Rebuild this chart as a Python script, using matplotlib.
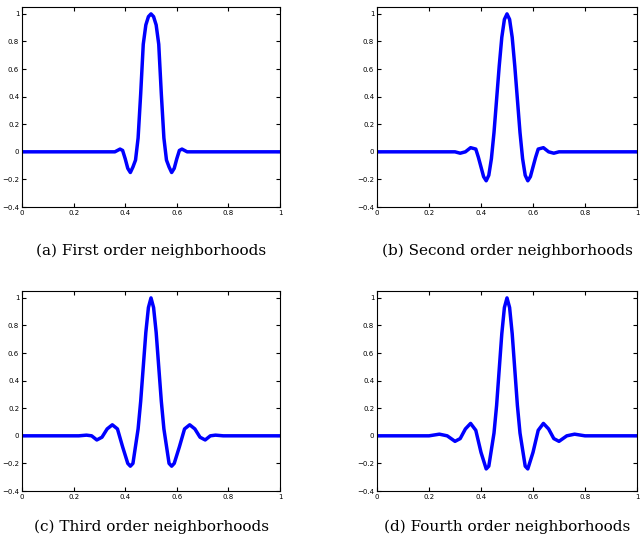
import matplotlib
matplotlib.use("Agg")
import matplotlib.pyplot as plt

# half-curves (x <= 0.5), mirrored about x = 0.5
xa = [0, 0.36, 0.37, 0.38, 0.39, 0.40, 0.41, 0.42, 0.43, 0.44, 0.45, 0.46, 0.47, 0.48, 0.49, 0.50]
ya = [0, 0, 0.01, 0.02, 0.01, -0.05, -0.12, -0.15, -0.11, -0.06, 0.1, 0.42, 0.78, 0.92, 0.98, 1.0]
xb = [0, 0.30, 0.32, 0.34, 0.36, 0.38, 0.39, 0.40, 0.41, 0.42, 0.43, 0.44, 0.45, 0.46, 0.47, 0.48, 0.49, 0.50]
yb = [0, 0, -0.01, 0.0, 0.03, 0.02, -0.04, -0.11, -0.18, -0.21, -0.17, -0.05, 0.14, 0.38, 0.62, 0.83, 0.96, 1.0]
xc = [0, 0.22, 0.25, 0.27, 0.29, 0.31, 0.33, 0.35, 0.37, 0.39, 0.41, 0.42, 0.43, 0.45, 0.46, 0.47, 0.48, 0.49, 0.50]
yc = [0, 0, 0.005, 0.0, -0.03, -0.01, 0.05, 0.08, 0.05, -0.08, -0.2, -0.22, -0.2, 0.05, 0.25, 0.5, 0.75, 0.93, 1.0]
xd = [0, 0.20, 0.24, 0.27, 0.30, 0.32, 0.34, 0.36, 0.38, 0.40, 0.42, 0.43, 0.45, 0.46, 0.47, 0.48, 0.49, 0.50]
yd = [0, 0, 0.012, 0.0, -0.04, -0.02, 0.05, 0.09, 0.04, -0.12, -0.24, -0.22, 0.02, 0.22, 0.48, 0.74, 0.93, 1.0]
captions = ["(a) First order neighborhoods", "(b) Second order neighborhoods",
            "(c) Third order neighborhoods", "(d) Fourth order neighborhoods"]
halves = [(xa, ya), (xb, yb), (xc, yc), (xd, yd)]
xticks = [0, 0.2, 0.4, 0.6, 0.8, 1]
yticks = [-0.4, -0.2, 0, 0.2, 0.4, 0.6, 0.8, 1]

fig = plt.figure(figsize=(6.4, 5.46), dpi=100)
W, H = 640, 546
rects = [(22, 7, 258, 200), (377, 7, 260, 200), (22, 291, 258, 200), (377, 291, 260, 200)]
capy = [251, 251, 527, 527]
for i, ((hx, hy), r) in enumerate(zip(halves, rects)):
    x0, y0, w, h = r
    ax = fig.add_axes([x0 / W, 1 - (y0 + h) / H, w / W, h / H])
    x = hx + [1 - v for v in reversed(hx[:-1])]
    y = hy + list(reversed(hy[:-1]))
    ax.plot(x, y, color="#0000ff", lw=2.5)
    ax.set_xlim(0, 1)
    ax.set_ylim(-0.4, 1.05)
    ax.set_xticks(xticks)
    ax.set_xticklabels(["0", "0.2", "0.4", "0.6", "0.8", "1"])
    ax.set_yticks(yticks)
    ax.set_yticklabels(["\u22120.4", "\u22120.2", "0", "0.2", "0.4", "0.6", "0.8", "1"])
    ax.tick_params(labelsize=5, direction="in", length=3, top=True, right=True, pad=2)
    cx = (x0 + w / 2) / W
    fig.text(cx, 1 - capy[i] / H, captions[i], ha="center", va="center",
             fontsize=11, family="DejaVu Serif")

fig.savefig("out.png", dpi=100)
